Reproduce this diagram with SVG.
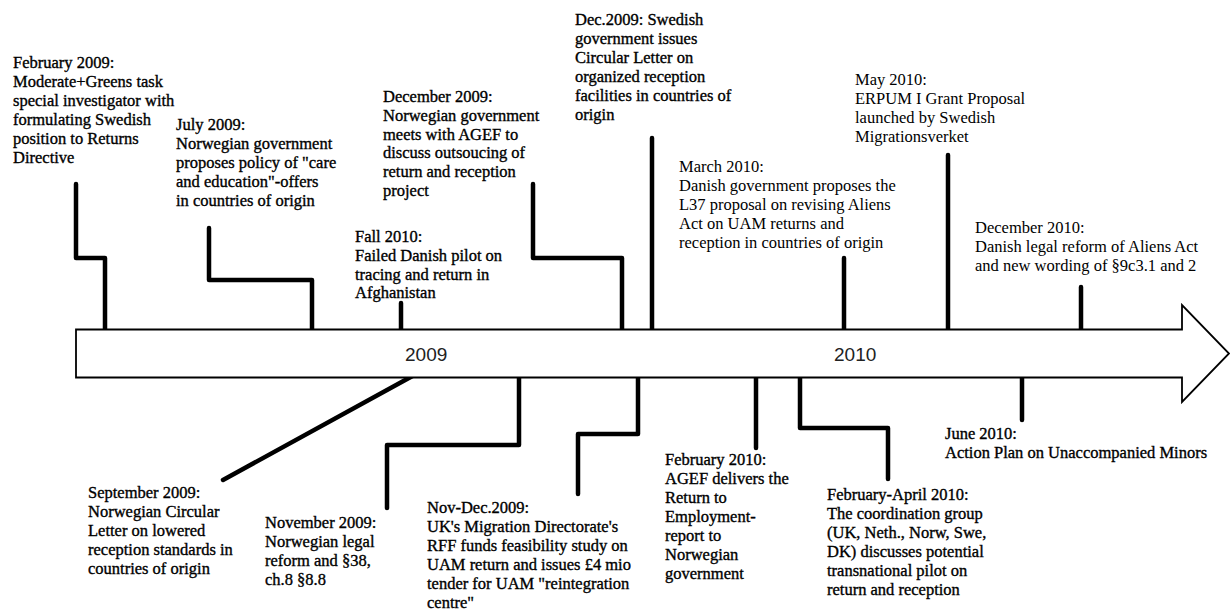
<svg xmlns="http://www.w3.org/2000/svg" width="1230" height="610" viewBox="0 0 1230 610">
<style>
.t{font-family:"Liberation Serif","Times New Roman",serif;font-size:16.5px;fill:#000;stroke:#000;stroke-width:0.35px}
.tt{font-family:"Liberation Serif","Times New Roman",serif;font-size:16.5px;fill:#000}
.yr{font-family:"Liberation Sans",Arial,sans-serif;font-size:19px;fill:#222}
.c{fill:none;stroke:#000;stroke-width:4.5;stroke-linecap:round;stroke-linejoin:round}
.ar{fill:#fff;stroke:#000;stroke-width:1.8;stroke-linejoin:miter}
</style>
<rect width="1230" height="610" fill="#fff"/>
<g id="connectors">
<path class="c" d="M76,184 V258 H105 V333"/>
<path class="c" d="M209,228 V280 H312 V333"/>
<path class="c" d="M401,303 V333"/>
<path class="c" d="M533,184 V258 H622 V333"/>
<path class="c" d="M652,138 V333"/>
<path class="c" d="M844,258 V333"/>
<path class="c" d="M948,155 V333"/>
<path class="c" d="M1081,287 V333"/>
<path class="c" d="M418,373 L223,480"/>
<path class="c" d="M519,373 V445 H387 V508"/>
<path class="c" d="M638,373 V434 H578 V494"/>
<path class="c" d="M756,373 V448"/>
<path class="c" d="M800,373 V428 H888 V479"/>
<path class="c" d="M1022,373 V420"/>
</g>
<g id="timeline">
<polygon class="ar" points="76,329.5 1182,329.5 1182,305 1229,353.5 1182,402 1182,377.5 76,377.5"/>
<text class="yr" x="405" y="361">2009</text>
<text class="yr" x="834" y="361">2010</text>
</g>
<g id="feb2009">
<text class="t" x="13" y="68">February 2009:<tspan x="13" dy="19">Moderate+Greens task</tspan><tspan x="13" dy="19">special investigator with</tspan><tspan x="13" dy="19">formulating Swedish</tspan><tspan x="13" dy="19">position to Returns</tspan><tspan x="13" dy="19">Directive</tspan></text>
</g>
<g id="jul2009">
<text class="t" x="176" y="130">July 2009:<tspan x="176" dy="19">Norwegian government</tspan><tspan x="176" dy="19">proposes policy of "care</tspan><tspan x="176" dy="19">and education"-offers</tspan><tspan x="176" dy="19">in countries of origin</tspan></text>
</g>
<g id="dec2009">
<text class="t" x="383" y="102">December 2009:<tspan x="383" dy="18.8">Norwegian government</tspan><tspan x="383" dy="18.8">meets with AGEF to</tspan><tspan x="383" dy="18.8">discuss outsoucing of</tspan><tspan x="383" dy="18.8">return and reception</tspan><tspan x="383" dy="18.8">project</tspan></text>
</g>
<g id="fall2010">
<text class="t" x="355" y="242">Fall 2010:<tspan x="355" dy="18.8">Failed Danish pilot on</tspan><tspan x="355" dy="18.8">tracing and return in</tspan><tspan x="355" dy="18.8">Afghanistan</tspan></text>
</g>
<g id="dec2009se">
<text class="t" x="575" y="25">Dec.2009: Swedish<tspan x="575" dy="19">government issues</tspan><tspan x="575" dy="19">Circular Letter on</tspan><tspan x="575" dy="19">organized reception</tspan><tspan x="575" dy="19">facilities in countries of</tspan><tspan x="575" dy="19">origin</tspan></text>
</g>
<g id="mar2010">
<text class="tt" x="679" y="172">March 2010:<tspan x="679" dy="19">Danish government proposes the</tspan><tspan x="679" dy="19">L37 proposal on revising Aliens</tspan><tspan x="679" dy="19">Act on UAM returns and</tspan><tspan x="679" dy="19">reception in countries of origin</tspan></text>
</g>
<g id="may2010">
<text class="tt" x="855" y="85">May 2010:<tspan x="855" dy="19">ERPUM I Grant Proposal</tspan><tspan x="855" dy="19">launched by Swedish</tspan><tspan x="855" dy="19">Migrationsverket</tspan></text>
</g>
<g id="dec2010">
<text class="tt" x="975" y="233">December 2010:<tspan x="975" dy="19">Danish legal reform of Aliens Act</tspan><tspan x="975" dy="19">and new wording of §9c3.1 and 2</tspan></text>
</g>
<g id="sep2009">
<text class="t" x="88" y="498">September 2009:<tspan x="88" dy="19">Norwegian Circular</tspan><tspan x="88" dy="19">Letter on lowered</tspan><tspan x="88" dy="19">reception standards in</tspan><tspan x="88" dy="19">countries of origin</tspan></text>
</g>
<g id="nov2009">
<text class="t" x="265" y="528">November 2009:<tspan x="265" dy="19">Norwegian legal</tspan><tspan x="265" dy="19">reform and §38,</tspan><tspan x="265" dy="19">ch.8 §8.8</tspan></text>
</g>
<g id="novdec2009">
<text class="t" x="427" y="513">Nov-Dec.2009:<tspan x="427" dy="19">UK's Migration Directorate's</tspan><tspan x="427" dy="19">RFF funds feasibility study on</tspan><tspan x="427" dy="19">UAM return and issues £4 mio</tspan><tspan x="427" dy="19">tender for UAM "reintegration</tspan><tspan x="427" dy="19">centre"</tspan></text>
</g>
<g id="feb2010">
<text class="t" x="665" y="465">February 2010:<tspan x="665" dy="19">AGEF delivers the</tspan><tspan x="665" dy="19">Return to</tspan><tspan x="665" dy="19">Employment-</tspan><tspan x="665" dy="19">report to</tspan><tspan x="665" dy="19">Norwegian</tspan><tspan x="665" dy="19">government</tspan></text>
</g>
<g id="febapr2010">
<text class="t" x="827" y="500">February-April 2010:<tspan x="827" dy="19">The coordination group</tspan><tspan x="827" dy="19">(UK, Neth., Norw, Swe,</tspan><tspan x="827" dy="19">DK) discusses potential</tspan><tspan x="827" dy="19">transnational pilot on</tspan><tspan x="827" dy="19">return and reception</tspan></text>
</g>
<g id="jun2010">
<text class="t" x="945" y="439">June 2010:<tspan x="945" dy="19">Action Plan on Unaccompanied Minors</tspan></text>
</g>
</svg>
